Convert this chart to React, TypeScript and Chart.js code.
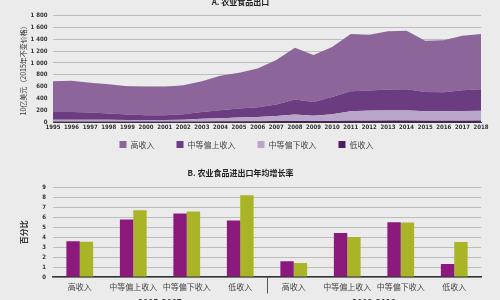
import React, { useEffect, useRef } from "react";
import { Chart, registerables } from "chart.js";

Chart.register(...registerables);

const years = ["1995","1996","1997","1998","1999","2000","2001","2002","2003","2004","2005","2006","2007","2008","2009","2010","2011","2012","2013","2014","2015","2016","2017","2018"];
const lowIncome = [10,10,9,9,8,8,8,9,10,11,12,13,15,18,16,18,22,23,24,24,22,22,23,24];
const lowerMiddleIncome = [30,30,29,27,26,25,27,31,45,54,63,72,85,107,89,112,158,172,176,176,158,158,162,166];
const upperMiddleIncome = [130,130,122,107,91,80,78,90,115,135,153,165,196,256,235,295,342,340,350,356,330,325,353,366];
const highIncome = [520,527,503,498,482,482,482,494,520,582,605,658,753,877,794,845,969,944,987,991,867,878,924,935];

const incomeGroups = ["高收入", "中等偏上收入", "中等偏下收入", "低收入"];
const growthCategories = ["高收入","中等偏上收入","中等偏下收入","低收入","高收入","中等偏上收入","中等偏下收入","低收入"];
const periodLabels = ["1995–2007", "2008–2018"];
const importGrowth = [3.6, 5.8, 6.4, 5.7, 1.58, 4.44, 5.52, 1.31];
const exportGrowth = [3.55, 6.73, 6.6, 8.25, 1.41, 4.04, 5.49, 3.54];

const CJK = "'Noto Sans CJK SC', sans-serif";
const NARROW = "'Liberation Sans Narrow', 'DejaVu Sans Condensed', sans-serif";

function fmtThousands(v: number) {
  if (v >= 1000) {
    return `${Math.floor(v / 1000)} ${String(v % 1000).padStart(3, "0")}`;
  }
  return String(v);
}

export default function App() {
  const topRef = useRef<HTMLCanvasElement>(null);
  const botRef = useRef<HTMLCanvasElement>(null);

  useEffect(() => {
    document.body.style.margin = "0";
    const legendShift = {
      id: "legendShift",
      afterLayout(chart: any) {
        if (chart.legend) {
          chart.legend.top -= 13.4;
          chart.legend.bottom -= 13.4;
          chart.legend.left += 6;
          chart.legend.right += 6;
        }
      },
    };

    const top = new Chart(topRef.current!, {
      type: "line",
      data: {
        labels: years,
        datasets: [
          { label: incomeGroups[3], data: lowIncome, backgroundColor: "#4e1c60", fill: "origin" },
          { label: incomeGroups[2], data: lowerMiddleIncome, backgroundColor: "#b9a5c8", fill: "-1" },
          { label: incomeGroups[1], data: upperMiddleIncome, backgroundColor: "#6c3c80", fill: "-1" },
          { label: incomeGroups[0], data: highIncome, backgroundColor: "#8c659b", fill: "-1" },
        ],
      },
      options: {
        responsive: false,
        animation: false,
        layout: { padding: { left: 0, right: 19, top: 0, bottom: 0 } },
        elements: {
          point: { radius: 0 },
          line: { tension: 0, borderWidth: 0, borderColor: "transparent" },
        },
        plugins: {
          tooltip: { enabled: false },
          title: {
            display: true,
            text: "A. 农业食品出口",
            color: "#222",
            font: { size: 8, weight: "bold", family: CJK },
            padding: { top: 0.7, bottom: 9.4 },
          },
          legend: {
            position: "bottom",
            labels: {
              boxWidth: 7,
              boxHeight: 7,
              padding: 22,
              color: "#444",
              font: { size: 8, family: CJK },
              sort: (a: any, b: any) => b.datasetIndex - a.datasetIndex,
            },
          },
        },
        scales: {
          x: {
            grid: { display: false, drawTicks: false },
            border: { display: true, color: "#333", width: 1 },
            ticks: {
              autoSkip: false,
              maxRotation: 0,
              minRotation: 0,
              padding: 1.6,
              color: "#333",
              font: { size: 6, weight: "bold", family: NARROW },
            },
            afterFit: (s: any) => { s.height = 10; },
          },
          y: {
            stacked: true,
            min: 0,
            max: 1800,
            ticks: {
              stepSize: 200,
              autoSkip: false,
              padding: 5.5,
              color: "#333",
              font: { size: 6, weight: "bold", family: NARROW },
              callback: (v: any) => fmtThousands(Number(v)),
            },
            grid: { color: "#bdbdbd", drawTicks: false },
            border: { display: false },
            title: {
              display: true,
              text: "10亿美元（2015年不变价格）",
              color: "#333",
              font: { size: 7, family: CJK },
              padding: { top: 19, bottom: 0 },
            },
            afterFit: (s: any) => { s.width = 53; },
          },
        },
      },
      plugins: [legendShift],
    } as any);

    const separator = {
      id: "periodSeparator",
      afterDraw(chart: any) {
        const xs = chart.scales.x;
        const x = Math.round((xs.getPixelForValue(3) + xs.getPixelForValue(4)) / 2) + 0.5;
        const ctx = chart.ctx;
        ctx.save();
        ctx.strokeStyle = "#555";
        ctx.lineWidth = 1;
        ctx.beginPath();
        ctx.moveTo(x, chart.chartArea.bottom);
        ctx.lineTo(x, chart.chartArea.bottom + 16.5);
        ctx.stroke();
        ctx.restore();
      },
    };

    const bot = new Chart(botRef.current!, {
      type: "bar",
      data: {
        labels: growthCategories,
        datasets: [
          { label: "进口", data: importGrowth, backgroundColor: "#8b1a7c", categoryPercentage: 0.5, barPercentage: 1 },
          { label: "出口", data: exportGrowth, backgroundColor: "#a9b526", categoryPercentage: 0.5, barPercentage: 1 },
        ],
      },
      options: {
        responsive: false,
        animation: false,
        layout: { padding: { left: 0, right: 19, top: 0, bottom: 0 } },
        plugins: {
          tooltip: { enabled: false },
          legend: { display: false },
          title: {
            display: true,
            text: "B. 农业食品进出口年均增长率",
            color: "#222",
            font: { size: 8, weight: "bold", family: CJK },
            padding: { top: 8.2, bottom: 9.9 },
          },
        },
        scales: {
          x: {
            grid: { display: false, drawTicks: false },
            border: { display: true, color: "#333", width: 1.5 },
            ticks: {
              autoSkip: false,
              maxRotation: 0,
              minRotation: 0,
              padding: 5.2,
              color: "#444",
              font: { size: 8, family: CJK },
            },
            afterFit: (s: any) => { s.height = 19; },
          },
          x2: {
            type: "category",
            labels: periodLabels,
            position: "bottom",
            offset: true,
            grid: { display: false, drawTicks: false },
            border: { display: false },
            ticks: {
              autoSkip: false,
              maxRotation: 0,
              minRotation: 0,
              padding: 3.5,
              color: "#333",
              font: { size: 8, weight: "bold", family: NARROW },
            },
            afterFit: (s: any) => { s.height = 20; },
          },
          y: {
            min: 0,
            max: 9,
            ticks: {
              stepSize: 1,
              autoSkip: false,
              padding: 7,
              color: "#333",
              font: { size: 6, weight: "bold", family: NARROW },
            },
            grid: { color: "#bdbdbd", drawTicks: false },
            border: { display: false },
            title: {
              display: true,
              text: "百分比",
              color: "#333",
              font: { size: 8, weight: "bold", family: CJK },
              padding: { top: 19, bottom: 0 },
            },
            afterFit: (s: any) => { s.width = 53; },
          },
        },
      },
      plugins: [separator],
    } as any);

    return () => {
      top.destroy();
      bot.destroy();
    };
  }, []);

  return (
    <div
      style={{
        position: "absolute",
        left: 0,
        top: 0,
        width: 500,
        height: 300,
        overflow: "hidden",
        background: "#ebebec",
      }}
    >
      <canvas ref={topRef} width={500} height={176} style={{ position: "absolute", left: 0, top: -4, display: "block" }} />
      <canvas ref={botRef} width={500} height={156} style={{ position: "absolute", left: 0, top: 160, display: "block" }} />
    </div>
  );
}
